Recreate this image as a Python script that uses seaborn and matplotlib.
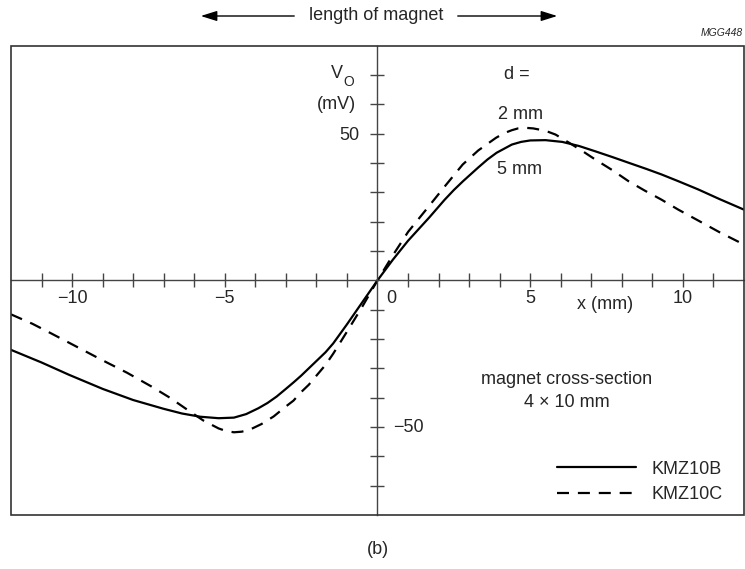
import matplotlib
matplotlib.use("Agg")
import matplotlib.pyplot as plt
from matplotlib.patches import Rectangle, FancyArrowPatch
import pandas as pd
import seaborn as sns

# curves, x in mm, Vo in mV
x_b = [-12, -11, -10.1, -9, -8, -7, -6.4, -5.8, -5.2, -4.7, -4.3, -3.9, -3.6, -3.3, -3.0,
       -2.75, -2.5, -2.25, -2.0, -1.7, -1.45, -1.0, -0.5, 0, 0.5, 1.0, 1.7, 2.2, 2.5, 2.8,
       3.3, 3.6, 3.9, 4.4, 4.7, 5.0, 5.5, 6.05, 6.6, 7.13, 7.7, 8.22, 8.8, 9.3, 9.85, 10.5,
       11.2, 12]
v_b = [-23.7, -28.0, -32.2, -37.0, -40.8, -43.8, -45.4, -46.5, -47.0, -46.8, -45.6, -43.6,
       -41.8, -39.6, -37.0, -34.8, -32.5, -30.0, -27.5, -24.5, -21.5, -15.0, -7.5, 0, 7.0,
       13.5, 21.5, 27.5, 30.8, 33.8, 38.5, 41.2, 43.5, 46.3, 47.2, 47.7, 47.8, 47.2, 45.8,
       44.0, 42.0, 40.1, 38.0, 36.1, 33.8, 31.0, 27.7, 24.1]

x_c = [-12, -11.3, -10.7, -9.8, -9.05, -8.2, -7.4, -6.8, -6.2, -5.7, -5.2, -4.95, -4.7,
       -4.45, -4.2, -3.8, -3.4, -3.0, -2.75, -2.53, -2.25, -2.0, -1.7, -1.45, -1.0, -0.5, 0,
       0.5, 1.0, 1.7, 2.2, 2.79, 3.3, 3.88, 4.15, 4.4, 4.6, 4.85, 5.1, 5.35, 5.6, 5.83, 6.37,
       6.75, 7.13, 7.7, 8.22, 8.75, 9.3, 9.85, 10.5, 11.2, 12]
v_c = [-11.6, -14.8, -18.0, -22.9, -27.0, -31.5, -36.2, -40.0, -44.3, -47.8, -50.5, -51.4,
       -51.8, -51.6, -51.0, -49.0, -46.4, -43.0, -41.0, -38.4, -35.6, -32.5, -28.8, -25.0,
       -17.5, -9.0, 0, 8.5, 16.5, 25.5, 32.0, 39.5, 44.3, 48.6, 50.2, 51.2, 51.8, 52.0, 51.8,
       51.3, 50.6, 49.7, 46.3, 43.8, 41.2, 37.5, 33.8, 30.6, 27.5, 24.1, 20.4, 16.4, 12.2]

devices = ["KMZ10B", "KMZ10C"]
x_ticks = [t for t in range(-11, 12) if t != 0]
x_labels = {-10: "\u221210", -5: "\u22125", 5: "5", 10: "10"}
y_ticks = [t for t in range(-70, 80, 10) if t != 0]
y_labels = {50: "50"}

df = pd.concat([
    pd.DataFrame({"x": x_b, "v": v_b, "device": devices[0]}),
    pd.DataFrame({"x": x_c, "v": v_c, "device": devices[1]}),
])

sns.set_style("white")
plt.rcParams["font.family"] = ["Liberation Sans", "DejaVu Sans"]
fs = 13
plt.rcParams["font.size"] = fs

fig = plt.figure(figsize=(7.45, 5.69), dpi=100)
ax = fig.add_axes([11 / 745, 1 - 515 / 569, 733 / 745, (515 - 45.7) / 569])

sns.lineplot(data=df, x="x", y="v", style="device", color="black", linewidth=1.6,
             dashes={"KMZ10B": "", "KMZ10C": (5.4, 4.0)}, estimator=None, ax=ax)

ax.set_xlim(-12, 12)
ax.set_ylim(-80, 80)
ax.set_xlabel("")
ax.set_ylabel("")

axis_col = "#444444"
for side in ["left", "bottom"]:
    ax.spines[side].set_position(("data", 0))
    ax.spines[side].set_color(axis_col)
    ax.spines[side].set_linewidth(1.0)
    ax.spines[side].set_visible(True)
for side in ["top", "right"]:
    ax.spines[side].set_visible(False)
ax.add_patch(Rectangle((0, 0), 1, 1, transform=ax.transAxes, fill=False,
                       edgecolor="#333333", linewidth=1.2, clip_on=False, zorder=5))

ax.set_xticks(x_ticks)
ax.set_xticklabels([x_labels.get(t, "") for t in x_ticks])
ax.set_yticks(y_ticks)
ax.set_yticklabels([y_labels.get(t, "") for t in y_ticks])
ax.tick_params(axis="both", direction="inout", length=10, width=1.0, color=axis_col,
               labelsize=fs, left=True, bottom=True)
ax.tick_params(axis="x", pad=2)
ax.tick_params(axis="y", pad=8)

# axis annotations
ax.text(0.29, -6.2, "0", ha="left", va="center", fontsize=fs)
ax.text(0.5, -50, "\u221250", ha="left", va="center", fontsize=fs)
ax.text(7.45, -8.3, "x (mm)", ha="center", va="center", fontsize=fs)
ax.text(-1.13, 70.4, "V", ha="right", va="center", fontsize=fs)
ax.text(-1.13, 67.6, "O", ha="left", va="center", fontsize=10)
ax.text(-0.71, 60, "(mV)", ha="right", va="center", fontsize=fs)

ax.text(4.57, 70.2, "d =", ha="center", va="center", fontsize=fs)
ax.text(4.69, 56.6, "2 mm", ha="center", va="center", fontsize=fs)
ax.text(4.64, 37.8, "5 mm", ha="center", va="center", fontsize=fs)
ax.text(6.2, -33.9, "magnet cross-section", ha="center", va="center", fontsize=fs)
ax.text(6.2, -41.7, "4 \u00d7 10 mm", ha="center", va="center", fontsize=fs)

handles, labels = ax.get_legend_handles_labels()
ax.legend(handles, labels, loc="lower right", bbox_to_anchor=(0.981, 0.0096), frameon=False,
          fontsize=fs, handlelength=4.37, handletextpad=0.87, labelspacing=0.47,
          borderaxespad=0)

# labels outside the frame
fig.text(376 / 745, 1 - 16 / 569, "length of magnet", ha="center", va="center", fontsize=fs)
arrow_style = "-|>,head_length=0.7,head_width=0.22"
fig.add_artist(FancyArrowPatch((297 / 745, 1 - 16 / 569), (198 / 745, 1 - 16 / 569),
                               transform=fig.transFigure, arrowstyle=arrow_style,
                               mutation_scale=14, color="black", lw=1.0))
fig.add_artist(FancyArrowPatch((455 / 745, 1 - 16 / 569), (560 / 745, 1 - 16 / 569),
                               transform=fig.transFigure, arrowstyle=arrow_style,
                               mutation_scale=14, color="black", lw=1.0))
fig.text(743 / 745, 1 - 33 / 569, "MGG448", ha="right", va="center", fontsize=7.5,
         style="italic")
fig.text(378 / 745, 1 - 549 / 569, "(b)", ha="center", va="center", fontsize=fs)

fig.savefig("out.png", dpi=100)
